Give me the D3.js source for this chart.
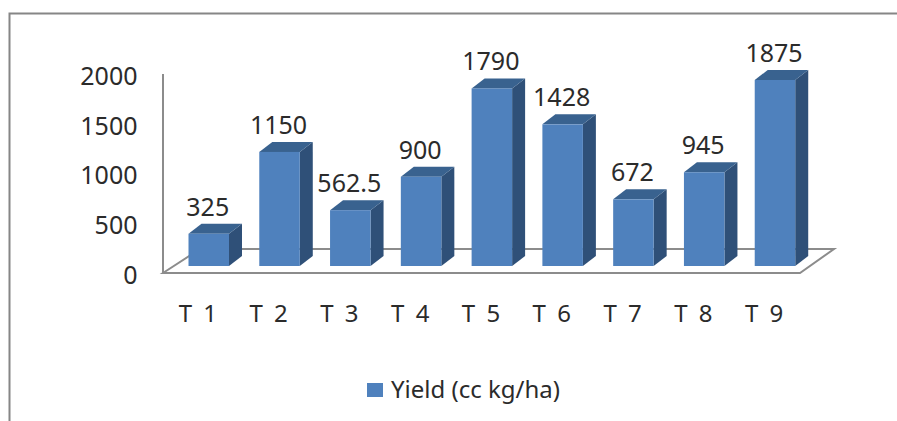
<!DOCTYPE html>
<html>
<head>
<meta charset="utf-8">
<script src="https://cdn.jsdelivr.net/npm/d3@7"></script>
<style>
  html, body { margin: 0; padding: 0; background: #fff; }
  text { font-family: "Noto Sans", "Open Sans", sans-serif; fill: #2b2b2b; }
</style>
</head>
<body>
<script>
//Chart data
var treatments = ["T 1", "T 2", "T 3", "T 4", "T 5", "T 6", "T 7", "T 8", "T 9"];
var yields = [325, 1150, 562.5, 900, 1790, 1428, 672, 945, 1875];
var yieldLabels = ["325", "1150", "562.5", "900", "1790", "1428", "672", "945", "1875"];
var yTicks = [0, 500, 1000, 1500, 2000];
var seriesName = "Yield (cc kg/ha)";

//Width and height
var w = 897;
var h = 421;

var svg = d3.select("body")
    .append("svg")
    .attr("width", w)
    .attr("height", h)
    .style("display", "block");

//Outer frame, only top and left show
svg.append("path")
    .attr("d", "M9.5,421V13.5H897")
    .style("fill", "none")
    .style("stroke", "#868686")
    .style("stroke-width", 2);

//Scales. The floor front edge is divided in bands, the bars sit further back on the floor
var x = d3.scaleBand().domain(treatments).range([163, 800]).paddingInner(0).paddingOuter(0);
var barWidth = 40.5;
var barShift = 25.5;
var y = d3.scaleLinear().domain([0, 2000]).range([266, 67.6]);
var depthX = 13, depthY = 10;

//Floor
svg.append("path")
    .attr("d", "M163,273L200,249H834L800,273Z")
    .style("fill", "#fff")
    .style("stroke", "#8c8c8c")
    .style("stroke-width", 2);

//Vertical axis line
svg.append("line")
    .attr("x1", 163).attr("x2", 163)
    .attr("y1", 74).attr("y2", 273)
    .style("stroke", "#8c8c8c")
    .style("stroke-width", 2);

//Value axis, labels follow the front plane of the floor
var yAxis = d3.axisLeft(y).tickValues(yTicks).tickFormat(d3.format("d")).tickSize(0).tickPadding(0);
var yAxisG = svg.append("g")
    .attr("transform", "translate(137.5,9)")
    .call(yAxis);
yAxisG.select(".domain").remove();
yAxisG.selectAll("text").style("font-size", "25px");

//Category axis
var xAxis = d3.axisBottom(x).tickSize(0).tickPadding(0);
var xAxisG = svg.append("g")
    .attr("transform", "translate(-0.5,305)")
    .call(xAxis);
xAxisG.select(".domain").remove();
xAxisG.selectAll("text")
    .style("font-size", "24px")
    .style("word-spacing", "5px");

//Bars
var bars = svg.selectAll(".bar")
    .data(yields)
    .enter()
    .append("g")
    .classed("bar", true)
    .attr("transform", function (d, i) { return "translate(" + (x(treatments[i]) + barShift) + ",0)"; });

//Side face
bars.append("path")
    .attr("d", function (d) {
        return "M" + barWidth + "," + y(d) +
            "l" + depthX + "," + (-depthY) +
            "V" + (y(0) - depthY) +
            "l" + (-depthX) + "," + depthY + "Z";
    })
    .style("fill", "#2f5078");

//Top face
bars.append("path")
    .attr("d", function (d) {
        return "M0," + y(d) +
            "l" + depthX + "," + (-depthY) +
            "h" + barWidth +
            "l" + (-depthX) + "," + depthY + "Z";
    })
    .style("fill", "#39628f");

//Front face
bars.append("rect")
    .attr("width", barWidth)
    .attr("y", function (d) { return y(d); })
    .attr("height", function (d) { return y(0) - y(d); })
    .style("fill", "#4f81bd");

//Value labels
bars.append("text")
    .attr("x", barWidth / 2 - 1)
    .attr("y", function (d) { return y(d) - depthY - 8; })
    .attr("text-anchor", "middle")
    .style("font-size", "25px")
    .text(function (d, i) { return yieldLabels[i]; });

//Legend
svg.append("rect")
    .attr("x", 367).attr("y", 383)
    .attr("width", 16).attr("height", 14)
    .style("fill", "#4f81bd");
svg.append("text")
    .attr("x", 391).attr("y", 398)
    .style("font-size", "24px")
    .text(seriesName);
</script>
</body>
</html>
